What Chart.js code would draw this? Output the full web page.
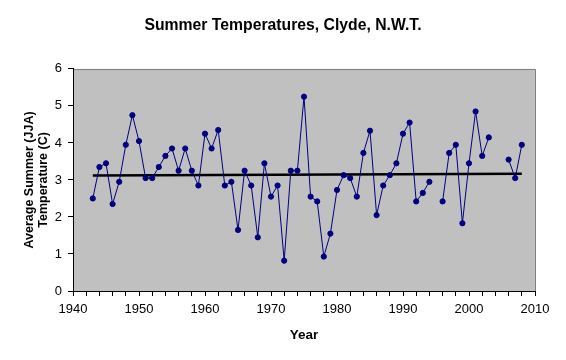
<!DOCTYPE html>
<html>
<head>
<meta charset="utf-8">
<script src="https://cdn.jsdelivr.net/npm/chart.js@4.4.1/dist/chart.umd.min.js"></script>
<style>
  html, body { margin: 0; padding: 0; background: #ffffff; }
  #wrap { width: 566px; height: 360px; }
</style>
</head>
<body>
<div id="wrap"><canvas id="c" width="566" height="360"></canvas></div>
<script>
const years = [1943,1944,1945,1946,1947,1948,1949,1950,1951,1952,1953,1954,1955,1956,1957,1958,1959,1960,1961,1962,1963,1964,1965,1966,1967,1968,1969,1970,1971,1972,1973,1974,1975,1976,1977,1978,1979,1980,1981,1982,1983,1984,1985,1986,1987,1988,1989,1990,1991,1992,1993,1994,1995,1996,1997,1998,1999,2000,2001,2002,2003,2004,2005,2006,2007,2008];
const temps = [2.5,3.35,3.45,2.35,2.95,3.95,4.75,4.05,3.05,3.05,3.35,3.65,3.85,3.25,3.85,3.25,2.85,4.25,3.85,4.35,2.85,2.95,1.65,3.25,2.85,1.45,3.45,2.55,2.85,0.82,3.25,3.25,5.25,2.55,2.42,0.93,1.55,2.73,3.13,3.05,2.55,3.73,4.33,2.05,2.85,3.13,3.45,4.25,4.55,2.42,2.65,2.95,null,2.42,3.73,3.95,1.83,3.45,4.85,3.65,4.15,null,null,3.55,3.05,3.95];
const trendYears = [1943, 2008];
const trendValues = [3.12, 3.17];
const xTickMin = 1940, xTickMax = 2010, xTickStep = 2, xLabelEvery = 10;
const yTickMin = 0, yTickMax = 6, yTickStep = 1;
const titleText = 'Summer Temperatures, Clyde, N.W.T.';
const xTitle = 'Year';
const yTitle = ['Average Summer (JJA)', 'Temperature (C)'];

const FONT = "'Liberation Sans', Arial, sans-serif";

const plotBg = {
  id: 'plotBg',
  beforeDraw(chart) {
    const {ctx, chartArea: a} = chart;
    ctx.save();
    ctx.fillStyle = '#c0c0c0';
    ctx.fillRect(a.left, a.top, a.right - a.left, a.bottom - a.top);
    ctx.strokeStyle = '#808080';
    ctx.lineWidth = 1;
    ctx.beginPath();
    ctx.moveTo(a.left, Math.round(a.top) + 0.5);
    ctx.lineTo(Math.round(a.right) + 0.5, Math.round(a.top) + 0.5);
    ctx.lineTo(Math.round(a.right) + 0.5, a.bottom);
    ctx.stroke();
    ctx.restore();
  }
};

new Chart(document.getElementById('c'), {
  type: 'line',
  data: {
    datasets: [
      {
        label: 'Temperature',
        data: years.map((y, i) => ({x: y, y: temps[i]})),
        borderColor: '#000080',
        backgroundColor: '#000080',
        borderWidth: 1,
        pointRadius: 2.6,
        pointBorderWidth: 1,
        pointBackgroundColor: '#000080',
        pointBorderColor: '#000080',
        spanGaps: false,
        tension: 0
      },
      {
        label: 'Trend',
        data: trendYears.map((y, i) => ({x: y, y: trendValues[i]})),
        borderColor: '#000000',
        borderWidth: 2.5,
        pointRadius: 0,
        tension: 0
      }
    ]
  },
  options: {
    responsive: false,
    animation: false,
    devicePixelRatio: 1,
    layout: { padding: 0 },
    plugins: {
      legend: { display: false },
      tooltip: { enabled: false },
      title: {
        display: true,
        text: titleText,
        color: '#000',
        font: { family: FONT, size: 15.75, weight: 'bold' },
        padding: { top: 16, bottom: 34 }
      }
    },
    scales: {
      x: {
        type: 'linear',
        min: xTickMin,
        max: xTickMax,
        ticks: {
          stepSize: xTickStep,
          autoSkip: false,
          maxRotation: 0,
          color: '#000',
          font: { family: FONT, size: 13 },
          padding: 6,
          callback: v => (v % xLabelEvery === 0 ? String(v) : '')
        },
        grid: { drawOnChartArea: false, drawTicks: true, tickLength: 5, color: '#000' },
        border: { color: '#000', width: 1 },
        title: {
          display: true,
          text: xTitle,
          color: '#000',
          font: { family: FONT, size: 13.5, weight: 'bold' },
          padding: { top: 0, bottom: 17 }
        },
        afterFit: s => { s.height = 69; }
      },
      y: {
        min: yTickMin,
        max: yTickMax,
        ticks: {
          stepSize: yTickStep,
          color: '#000',
          font: { family: FONT, size: 13 },
          padding: 6
        },
        grid: { drawOnChartArea: false, drawTicks: true, tickLength: 5, color: '#000' },
        border: { color: '#000', width: 1 },
        title: {
          display: true,
          text: yTitle,
          color: '#000',
          font: { family: FONT, size: 12.5, weight: 'bold', lineHeight: 1.1 },
          padding: { top: 23, bottom: 0 }
        },
        afterFit: s => { s.width = 73; }
      },
      yPad: {
        position: 'right',
        display: true,
        ticks: { display: false },
        grid: { display: false, drawTicks: false },
        border: { display: false },
        afterFit: s => { s.width = 31; }
      }
    }
  },
  plugins: [plotBg]
});
</script>
</body>
</html>
